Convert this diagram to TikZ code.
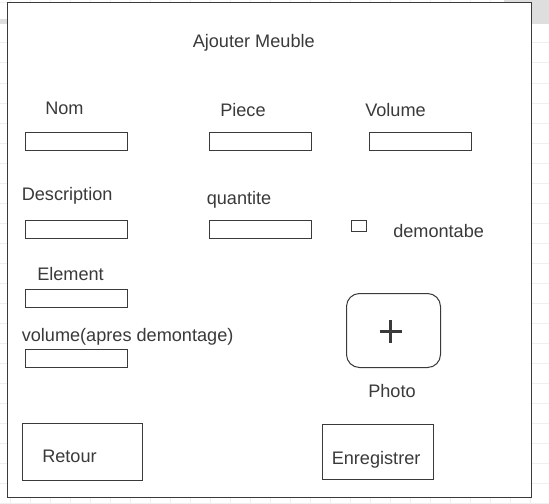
\documentclass[tikz,border=0pt]{standalone}
\usepackage{fontspec}
\setmainfont{Liberation Sans}
\definecolor{ink}{HTML}{3A3A3A}
\definecolor{gridline}{HTML}{EFEFEF}
\definecolor{band}{HTML}{DEDEDE}
\tikzset{
  field/.style={draw=ink,line width=0.75pt},
  lbl/.style={anchor=base west,inner sep=0pt,text=ink,font=\fontsize{13.6}{16}\selectfont},
}
\begin{document}
\begin{tikzpicture}[x=0.75pt,y=-0.75pt]
  \useasboundingbox (0,0) rectangle (549,503);
  % grid behind the window
  \foreach \gy in {3,23,...,503} \draw[gridline,line width=0.75pt] (0,\gy)--(549,\gy);
  \foreach \gx in {10,30,...,530} \draw[gridline,line width=0.75pt] (\gx,0)--(\gx,503);
  \fill[band] (0,19) rectangle (549,24.5);
  \fill[band] (504,0) rectangle (549,24.5);
  % window
  \draw[field,fill=white] (7.5,2.5) rectangle (531.5,497);
  \node[lbl] (title) at (192.5,47.5) {Ajouter Meuble};
  % first row
  \node[lbl] (nom) at (45,114) {Nom};
  \node[lbl] (piece) at (220,116.5) {Piece};
  \node[lbl] (vol) at (365,116.5) {Volume};
  \draw[field] (25,132.5) rectangle (127.5,150.5);
  \draw[field] (209.5,132.5) rectangle (311.5,150.5);
  \draw[field] (369.5,132.5) rectangle (471.5,150.5);
  % second row
  \node[lbl] (desc) at (21.5,200.5) {Description};
  \node[lbl] (qte) at (206.5,204) {quantite};
  \draw[field] (25,220.5) rectangle (127.5,238.5);
  \draw[field] (209.5,220.5) rectangle (311.5,238.5);
  \draw[ink,line width=0.6pt] (351.5,220.5) rectangle (366,231);
  \node[lbl] (demont) at (393,237.5) {demontabe};
  % element
  \node[lbl] (elem) at (37,280) {Element};
  \draw[field] (25,289.5) rectangle (127.5,307.5);
  \node[lbl] (volap) at (21.5,341.5) {volume(apres demontage)};
  \draw[field] (25,349.5) rectangle (127.5,367.5);
  % photo
  \draw[field,rounded corners=9.75pt] (346.5,293.5) rectangle (440.5,367.5);
  \draw[ink,line width=1.9pt] (379.5,331.5)--(401.5,331.5) (390.5,320)--(390.5,342.5);
  \node[lbl] (photo) at (368,397.5) {Photo};
  % buttons
  \draw[field] (22.5,423) rectangle (142.5,480.5);
  \node[lbl] (retour) at (42,462.5) {Retour};
  \draw[field] (322.5,424.5) rectangle (433.5,479);
  \node[lbl] (save) at (331.5,464) {Enregistrer};
\end{tikzpicture}
\end{document}
